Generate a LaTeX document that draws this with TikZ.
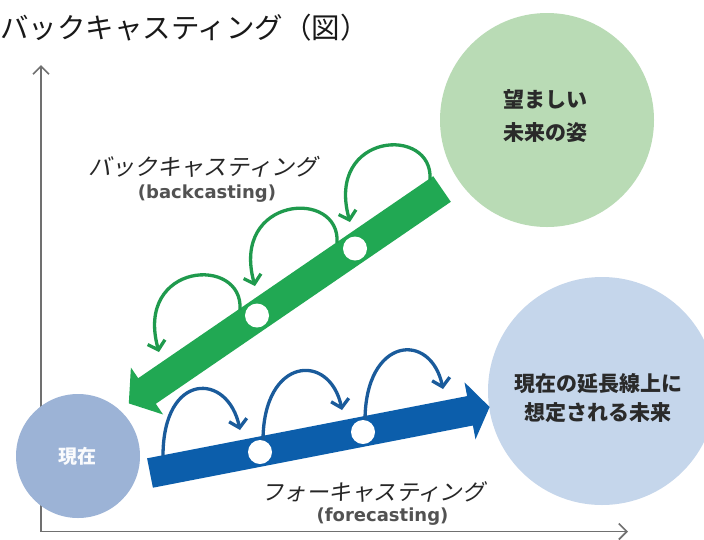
\documentclass[tikz,border=0pt]{standalone}
\usepackage{fontspec}
\usetikzlibrary{arrows.meta}
\setmainfont{Noto Sans CJK JP}
\newfontfamily\jp{Noto Sans CJK JP}
\newfontfamily\latsans{DejaVu Sans}
\definecolor{idealc}{HTML}{B9DBB5}
\definecolor{futurec}{HTML}{C5D6EB}
\definecolor{nowc}{HTML}{9CB3D6}
\definecolor{gbandc}{HTML}{21A853}
\definecolor{garcc}{HTML}{1F9A4D}
\definecolor{bbandc}{HTML}{0C5EAB}
\definecolor{barcc}{HTML}{1A5B9B}
\definecolor{axisc}{HTML}{707070}
\definecolor{txtc}{HTML}{2A2A2A}
\begin{document}
\begin{tikzpicture}[x=1pt,y=-1pt,
  circ/.style={circle,inner sep=0pt,draw=none},
  axisline/.style={draw=axisc,line width=1.7pt,-{Straight Barb[length=8pt,width=16pt]}},
  garc/.style={draw=garcc,line width=3.3pt,-{Straight Barb[length=8pt,width=18pt]}},
  barc/.style={draw=barcc,line width=3.3pt,-{Straight Barb[length=8pt,width=18pt]}},
  dotw/.style={circle,fill=white,draw=none,inner sep=0pt,minimum size=24pt},
  ctext/.style={align=center,inner sep=0pt,text=txtc},
  lbl/.style={inner sep=0pt,anchor=base,text=black!85,xslant=0.22},
  latlbl/.style={inner sep=0pt,anchor=base,text=black!68,font=\latsans\bfseries\fontsize{18}{20}\selectfont}
]
\useasboundingbox (0,0) rectangle (704,539);
\fill[white] (0,0) rectangle (704,539);

% title
\node[inner sep=0pt,anchor=base west,text=black!90,font=\jp\fontsize{28.5}{30}\selectfont] (title) at (0,38) {バックキャスティング（図）};

% axes
\coordinate (origin) at (41,531.5);
\coordinate (ytip) at (41,65);
\coordinate (xtip) at (628,531.5);
\draw[axisline] (origin) -- (ytip);
\draw[axisline] (origin) -- (xtip);

% circles
\node[circ,fill=idealc,minimum size=214pt] (ideal) at (547,120) {};
\node[circ,fill=futurec,minimum size=228pt] (future) at (602,391) {};
\node[circ,fill=nowc,minimum size=124pt] (now) at (78,456) {};

\node[ctext,font=\jp\bfseries\fontsize{21}{33.5}\selectfont] (idealtxt) at (545,116) {望ましい\\未来の姿};
\node[ctext,font=\jp\bfseries\fontsize{21}{28.5}\selectfont] (futuretxt) at (598,398) {現在の延長線上に\\想定される未来};
\node[inner sep=0pt,text=white!95!nowc,font=\jp\bfseries\fontsize{19}{20}\selectfont] (nowtxt) at (77,456.5) {現在};

% green band (backcasting arrow)
\fill[gbandc] (450.8,201.8) -- (155.8,403.8) -- (163.1,414.5) -- (128.8,403.4)
  -- (130.9,367.5) -- (138.2,378.2) -- (433.2,176.2) -- cycle;
% blue band (forecasting arrow)
\fill[bbandc] (152.9,487.7) -- (472.9,425.5) -- (475.5,439.3) -- (489.6,407.0)
  -- (464.5,382.3) -- (467.1,396.1) -- (147.1,458.3) -- cycle;

% green loops
\coordinate (gs1) at (430,180); \coordinate (gt1) at (350,222);
\coordinate (gs2) at (337,243); \coordinate (gt2) at (255,286);
\coordinate (gs3) at (240,310); \coordinate (gt3) at (159,352);
\draw[garc] (gs1) .. controls +(4,-55) and +(-25,-90) .. (gt1);
\draw[garc] (gs2) .. controls +(4,-55) and +(-25,-90) .. (gt2);
\draw[garc] (gs3) .. controls +(4,-55) and +(-25,-90) .. (gt3);

% blue loops
\coordinate (bs1) at (163,456); \coordinate (bt1) at (240,430);
\coordinate (bs2) at (263,441); \coordinate (bt2) at (342,410);
\coordinate (bs3) at (365,421); \coordinate (bt3) at (443,389);
\draw[barc] (bs1) .. controls +(0,-85) and +(-12,-58) .. (bt1);
\draw[barc] (bs2) .. controls +(0,-85) and +(-12,-58) .. (bt2);
\draw[barc] (bs3) .. controls +(0,-85) and +(-12,-58) .. (bt3);

% white dots
\node[dotw] (gd1) at (257,315.5) {};
\node[dotw] (gd2) at (355,248.5) {};
\node[dotw] (bd1) at (260,452) {};
\node[dotw] (bd2) at (363,432) {};

% labels
\node[lbl,font=\jp\fontsize{23}{25}\selectfont] (bclbl) at (203,175) {バックキャスティング};
\node[latlbl] (bcen) at (207,198) {(backcasting)};
\node[lbl,font=\jp\fontsize{22.5}{25}\selectfont] (fclbl) at (373,500) {フォーキャスティング};
\node[latlbl] (fcen) at (382.5,521.5) {(forecasting)};
\end{tikzpicture}
\end{document}
